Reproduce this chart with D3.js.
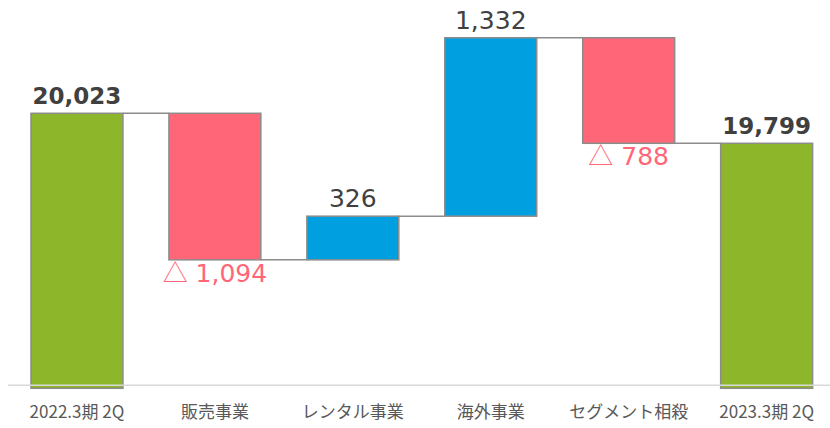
<!DOCTYPE html>
<html><head><meta charset="utf-8">
<script src="https://cdn.jsdelivr.net/npm/d3@7"></script>
<style>html,body{margin:0;padding:0;background:#fff;}svg{display:block;}</style>
</head><body>
<svg id="chart" width="830" height="428"></svg>
<script>
const categories = ["2022.3期 2Q","販売事業","レンタル事業","海外事業","セグメント相殺","2023.3期 2Q"];
const values = [20023, -1094, 326, 1332, -788, 19799];
const kinds = ["total","delta","delta","delta","delta","total"];
const yDomain = [18000, 20800];

const colors = {total:"#8DB62A", up:"#00A0E0", down:"#FF6677"};
const svg = d3.select("#chart");
const x = d3.scaleBand().domain(categories).range([8, 835.6]).paddingInner(1/3).paddingOuter(1/6);
const y = d3.scaleLinear().domain(yDomain).range([384.3, 9.2]);

let run = 0;
const bars = categories.map((c,i)=>{
  const v = values[i];
  let start, end;
  if (kinds[i]==="total"){ start = null; end = v; run = v; }
  else { start = run; end = run + v; run = end; }
  return {c, v, kind:kinds[i], start, end};
});

const base = y(yDomain[0]);
const conn = svg.append("g");
for (let i=0;i<bars.length-1;i++){
  const lvl = bars[i].end;
  conn.append("line")
    .attr("x1", x(bars[i].c)+x.bandwidth()).attr("x2", x(bars[i+1].c))
    .attr("y1", y(lvl)).attr("y2", y(lvl))
    .attr("stroke","#8c8c8c").attr("stroke-width",1.5);
}
svg.append("g").selectAll("rect").data(bars).join("rect")
  .attr("x", d=>x(d.c))
  .attr("width", x.bandwidth())
  .attr("y", d=> d.kind==="total" ? y(d.v) : y(Math.max(d.start,d.end)))
  .attr("height", d=> d.kind==="total" ? (base+4 - y(d.v)) : Math.abs(y(d.start)-y(d.end)))
  .attr("fill", d=> d.kind==="total" ? colors.total : (d.v>=0 ? colors.up : colors.down))
  .attr("stroke","#8c8c8c").attr("stroke-width",1.5);

svg.append("line").attr("x1",8).attr("x2",830).attr("y1",base+1).attr("y2",base+1)
  .attr("stroke","#d9d9d9").attr("stroke-width",1.5);

const ax = svg.append("g").attr("transform",`translate(0,${base})`)
  .call(d3.axisBottom(x).tickSize(0).tickPadding(0));
ax.select(".domain").remove();
ax.selectAll("text").attr("dy",null).attr("y",34)
  .attr("fill","#595959").style("font-family","'Noto Sans CJK JP',sans-serif").style("font-size","17px");

const fmt = d3.format(",");
const lab = svg.append("g").selectAll("text").data(bars).join("text")
  .attr("x", d=>x(d.c)+x.bandwidth()/2)
  .attr("y", d=>{
    if (d.kind==="total") return y(d.v)-9;
    if (d.v>=0) return y(d.end)-9;
    return y(d.end)+22;
  })
  .attr("text-anchor","middle")
  .style("font-family","'DejaVu Sans','Noto Sans CJK JP',sans-serif")
  .style("font-size", d=> d.kind==="total" ? "23px" : "25px")
  .style("font-weight", d=> d.kind==="total" ? "bold" : "normal")
  .attr("fill", d=> d.kind==="total" ? "#404040" : (d.v>=0 ? "#404040" : "#FF6677"));
lab.each(function(d){
  const t = d3.select(this);
  if (d.v>=0) { t.text(fmt(d.v)); return; }
  t.append("tspan").style("font-family","'Noto Sans CJK JP',sans-serif").text("△");
  t.append("tspan").text(" " + fmt(-d.v));
});
</script>
</body></html>
